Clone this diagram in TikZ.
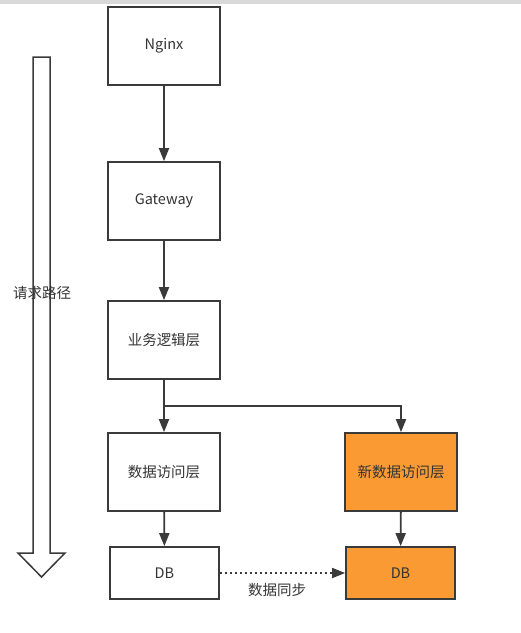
\documentclass[tikz,border=0pt]{standalone}
\usepackage{fontspec}
\setmainfont{Noto Sans CJK SC}
\usetikzlibrary{arrows.meta, positioning}
\definecolor{boxline}{HTML}{3A3A3A}
\definecolor{newlayer}{HTML}{F99A33}

\begin{document}
\begin{tikzpicture}[x=1pt, y=-1pt,
    label text/.style={font=\fontsize{14.5}{16}\selectfont, text=black!80},
    layer/.style={label text, draw=boxline, line width=1.7pt, minimum width=112pt, minimum height=78pt},
    dbbox/.style={layer, minimum width=109pt, minimum height=52pt},
    flow/.style={draw=boxline, line width=1.9pt, -{Triangle[length=13pt,width=10pt]}}]
  \useasboundingbox (0,0) rectangle (521,633);
  \fill[gray!30] (0,0) rectangle (521,3.5);

  % request path
  \draw[boxline, line width=1.5pt, line join=miter]
    (33,57) -- (50,57) -- (50,553) -- (65,553) -- (41.5,577) -- (18,553) -- (33,553) -- cycle;
  \node[label text] (path) at (42,293) {请求路径};

  % layers
  \node[layer] (nginx) at (164,46) {Nginx};
  \node[layer] (gateway) at (164,201) {Gateway};
  \node[layer] (logic) at (164,340) {业务逻辑层};
  \node[layer] (dal) at (164,472) {数据访问层};
  \node[dbbox] (db) at (164.5,573) {DB};
  \node[layer, fill=newlayer] (newdal) at (401,472) {新数据访问层};
  \node[dbbox, fill=newlayer] (newdb) at (400.5,573) {DB};

  \draw[flow] (nginx) -- (gateway);
  \draw[flow] (gateway) -- (logic);
  \draw[flow] (logic) -- (dal);
  \coordinate (split) at (164,406);
  \draw[flow] (split) -| (newdal);
  \draw[flow] (dal) -- (db);
  \draw[flow] (newdal) -- (newdb);

  \draw[flow, line width=1.7pt, dash pattern=on 2pt off 3pt] (db) -- (newdb);
  \node[label text] (sync) at (277,590) {数据同步};

\end{tikzpicture}
\end{document}
